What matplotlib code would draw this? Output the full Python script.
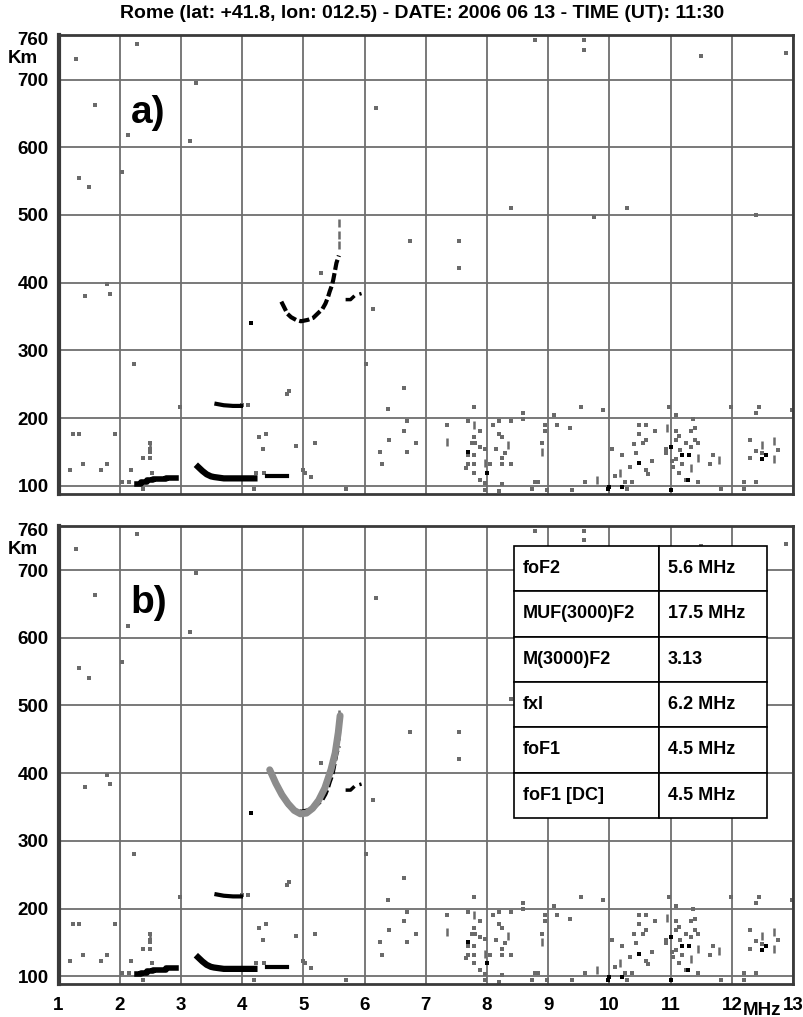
import matplotlib
matplotlib.use("Agg")
import matplotlib.pyplot as plt

plt.rcParams['font.family'] = ['Liberation Sans', 'DejaVu Sans']
plt.rcParams['font.weight'] = 'bold'

title = "Rome (lat: +41.8, lon: 012.5) - DATE: 2006 06 13 - TIME (UT): 11:30"

# frequency (MHz) / virtual height (km) of scattered gray echoes
gray_f = [1.28, 2.29, 1.59, 3.25, 2.14, 3.14, 6.19, 1.34, 1.49, 2.04, 6.74,
          8.79, 9.59, 9.59, 11.49, 12.89, 8.39, 10.29, 9.74, 12.39, 7.54, 7.54,
          1.79, 1.44, 1.84, 2.23, 5.28, 6.14, 6.03, 6.64, 6.38, 4.77, 4.74,
          1.23, 1.34, 1.93, 1.40, 1.18, 1.69, 1.79, 2.19, 2.49, 2.49, 2.49, 2.38,
          2.49, 2.53, 2.38, 4.28, 4.39, 4.34, 4.88, 5.19, 4.19, 5.69, 5.13, 5.02,
          5.00, 6.25, 6.40, 6.64, 6.69, 6.69, 6.84, 6.29, 2.98, 2.04, 2.15,
          7.79, 8.59, 9.09, 9.54, 9.89, 10.98, 11.98, 12.44, 12.39, 12.99, 11.09,
          11.36, 7.34, 7.69, 7.89, 7.79, 7.75, 7.80, 7.89, 7.96, 7.69, 7.79,
          7.69, 7.79, 7.65, 7.79, 7.89, 7.96, 7.96, 8.05, 8.10, 8.20, 8.40,
          8.20, 8.25, 8.14, 8.30, 8.25, 8.40, 8.25, 8.25, 8.20, 8.59, 8.94,
          8.94, 8.90, 9.14, 9.35, 8.79, 8.73, 8.84, 8.98, 9.39, 9.60, 10.09,
          10.29, 10.25, 10.37, 10.04, 10.20, 10.34, 10.40, 10.44, 10.49, 10.59,
          10.49, 10.55, 10.59, 10.59, 10.63, 10.69, 10.74, 11.04, 11.09, 11.09,
          11.14, 11.15, 11.25, 11.34, 11.40, 11.34, 11.40, 11.44, 11.25, 11.14,
          11.09, 11.03, 10.93, 10.92, 11.19, 11.44, 11.69, 11.64, 11.82, 12.20,
          12.39, 12.20, 12.29, 12.29, 12.39, 12.49, 12.75, 4.00, 4.10, 4.22, 4.36]
gray_h = [731, 753, 663, 695, 618, 609, 658, 555, 541, 564, 461,
          758, 758, 744, 735, 739, 510, 510, 497, 500, 461, 421,
          398, 380, 384, 280, 415, 361, 280, 245, 213, 240, 235,
          177, 177, 177, 132, 123, 123, 132, 123, 163, 154, 150, 141,
          141, 119, 95, 172, 177, 154, 159, 163, 95, 95, 113, 119,
          123, 150, 168, 181, 195, 150, 163, 132, 217, 105, 105,
          217, 208, 204, 217, 212, 217, 217, 217, 208, 212, 204,
          199, 190, 195, 181, 172, 163, 163, 158, 155, 145, 145,
          132, 132, 127, 119, 109, 104, 94, 132, 190, 195, 195,
          177, 172, 154, 149, 141, 132, 132, 102, 92, 199, 190,
          181, 163, 190, 185, 105, 95, 105, 94, 94, 105, 114,
          95, 105, 105, 154, 145, 128, 162, 149, 190, 190,
          177, 163, 168, 123, 118, 136, 181, 128, 181, 168,
          173, 153, 163, 158, 185, 181, 168, 163, 109, 119,
          139, 136, 154, 149, 132, 105, 145, 132, 95, 105,
          105, 95, 168, 141, 152, 148, 153, 220, 220, 119, 119]

# short vertical dashes
dash_f = [5.58, 5.58, 5.58, 7.79, 7.34, 7.96, 8.34, 8.90, 9.79, 10.18,
          10.94, 11.44, 11.34, 11.79, 12.49, 12.69, 2.49, 12.69]
dash_h = [488, 470, 455, 190, 165, 133, 160, 150, 109, 119,
          186, 141, 126, 138, 160, 140, 158, 166]

# strong black echoes
black_f = [4.15, 7.69, 8.00, 9.99, 9.98, 10.20, 11.00, 11.00, 11.19, 11.30,
           11.29, 12.50, 12.55, 1.01, 1.01, 1.01, 10.49]
black_h = [341, 150, 119, 99, 95, 99, 158, 94, 145, 145,
           109, 139, 145, 100, 108, 114, 133]

# traces
e_low_f = [2.28, 2.40, 2.50, 2.60, 2.70, 2.80, 2.92]
e_low_h = [103, 105, 108, 110, 110, 112, 112]
es_f = [3.28, 3.35, 3.42, 3.49, 3.54, 3.70, 3.90, 4.10, 4.20]
es_h = [128, 122, 117, 114, 113, 111, 111, 111, 111]
es_tail_f = [4.41, 4.74]
es_tail_h = [114, 114]
s220_f = [3.58, 3.70, 3.85, 3.98]
s220_h = [221, 219, 218, 218]
f2_f = [4.64, 4.69, 4.74, 4.80, 4.88, 4.96, 5.07, 5.16, 5.24, 5.31, 5.36,
        5.40, 5.43, 5.47, 5.49, 5.54, 5.58]
f2_h = [372, 363, 354, 349, 345, 343, 345, 348, 355, 361, 369,
        378, 387, 397, 405, 429, 440]
fx_f = [5.69, 5.77, 5.84, 5.95]
fx_h = [375, 375, 381, 384]

# autoscaled F2 profile (panel b)
fit_f = [4.45, 4.55, 4.65, 4.75, 4.85, 4.95, 5.05, 5.15, 5.25, 5.35, 5.45,
         5.52, 5.57, 5.60]
fit_h = [405, 385, 368, 355, 345, 340, 341, 348, 360, 378, 405,
         430, 460, 485]

table_rows = [["foF2", "5.6 MHz"],
              ["MUF(3000)F2", "17.5 MHz"],
              ["M(3000)F2", "3.13"],
              ["fxl", "6.2 MHz"],
              ["foF1", "4.5 MHz"],
              ["foF1 [DC]", "4.5 MHz"]]

xticks = list(range(1, 14))
yticks = [100, 200, 300, 400, 500, 600, 700, 760]


def draw_panel(ax, label, show_x, fit=False, table=False):
    ax.set_xlim(1, 13)
    ax.set_ylim(88, 765)
    ax.set_xticks(xticks)
    ax.set_yticks(yticks)
    ax.grid(True, color="#6e6e6e", linewidth=1.3)
    ax.get_ygridlines()[-1].set_visible(False)
    ax.set_axisbelow(True)
    ax.tick_params(length=0, labelsize=13.5, pad=7)
    ax.tick_params(axis="x", pad=9)
    if not show_x:
        ax.set_xticklabels([])
    for s in ax.spines.values():
        s.set_linewidth(2)
        s.set_color("#3a3a3a")
    ax.spines["left"].set_linewidth(3)

    ax.plot(gray_f, gray_h, "s", color="#6a6a6a", ms=2.4, mew=0)
    ax.plot(dash_f, dash_h, "|", color="#6a6a6a", ms=5.5, mew=1.8)
    ax.plot(black_f, black_h, "s", color="black", ms=3.2, mew=0)
    ax.plot(e_low_f, e_low_h, color="black", lw=4, drawstyle="steps-mid")
    ax.plot(es_f, es_h, color="black", lw=4.5)
    ax.plot(es_tail_f, es_tail_h, color="black", lw=3)
    ax.plot(s220_f, s220_h, color="black", lw=3)
    ax.plot(f2_f, f2_h, color="black", lw=3, dashes=[2.5, 0.8])
    ax.plot(fx_f, fx_h, color="black", lw=2.5, dashes=[3, 1.5])
    if fit:
        ax.plot(fit_f, fit_h, color="#8c8c8c", lw=5, solid_capstyle="round")

    ax.text(2.18, 651, label, fontsize=28, fontweight="bold", va="center", ha="left")
    ax.text(-0.048, 0.949, "Km", transform=ax.transAxes, ha="center", va="center",
            fontsize=13.5, fontweight="bold")

    if table:
        tbl = ax.table(cellText=table_rows, cellLoc="left",
                       colWidths=[0.198, 0.1466],
                       bbox=[0.620, 0.3631, 0.3446, 0.5933])
        tbl.auto_set_font_size(False)
        tbl.set_fontsize(13)
        tbl.set_zorder(5)
        for (r, c), cell in tbl.get_celld().items():
            cell.set_edgecolor("black")
            cell.set_linewidth(1.2)
            cell.set_facecolor("white")
            cell.PAD = 0.06 if c == 0 else 0.078
            cell.get_text().set_fontweight("bold")


fig = plt.figure(figsize=(8.04, 10.17), dpi=100)
ax1 = fig.add_axes([0.0728, 0.5143, 0.9136, 0.4508])
ax2 = fig.add_axes([0.0728, 0.0320, 0.9136, 0.4508])

draw_panel(ax1, "a)", False)
draw_panel(ax2, "b)", True, fit=True, table=True)
ax2.text(12.5, -0.056, "MHz", transform=ax2.get_xaxis_transform(),
         ha="center", va="center", fontsize=13.5, fontweight="bold")

fig.text(0.525, 1 - 14 / 1017, title, ha="center", va="center",
         fontsize=14, fontweight="bold")

fig.savefig("out.png", dpi=100)
